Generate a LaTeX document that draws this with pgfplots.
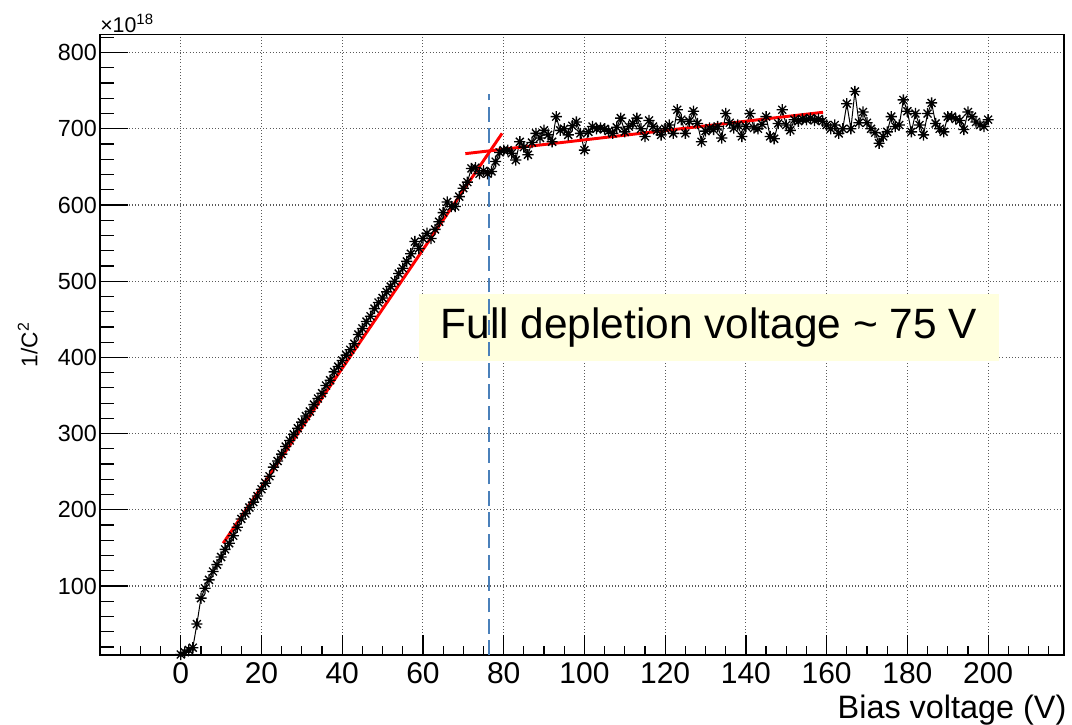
\documentclass[border=0pt]{standalone}
\usepackage{fontspec}
\setmainfont{Liberation Sans}
\usepackage{pgfplots}
\pgfplotsset{compat=1.18}
\definecolor{boxyellow}{RGB}{255,255,222}
\definecolor{dashblue}{RGB}{74,128,186}
\pgfdeclareplotmark{rootstar}{%
  \pgfpathmoveto{\pgfqpoint{-\pgfplotmarksize}{0pt}}\pgfpathlineto{\pgfqpoint{\pgfplotmarksize}{0pt}}%
  \pgfpathmoveto{\pgfqpoint{0pt}{-\pgfplotmarksize}}\pgfpathlineto{\pgfqpoint{0pt}{\pgfplotmarksize}}%
  \pgfpathmoveto{\pgfqpoint{-0.707\pgfplotmarksize}{-0.707\pgfplotmarksize}}\pgfpathlineto{\pgfqpoint{0.707\pgfplotmarksize}{0.707\pgfplotmarksize}}%
  \pgfpathmoveto{\pgfqpoint{-0.707\pgfplotmarksize}{0.707\pgfplotmarksize}}\pgfpathlineto{\pgfqpoint{0.707\pgfplotmarksize}{-0.707\pgfplotmarksize}}%
  \pgfusepathqstroke}
\begin{document}
\begin{tikzpicture}
\useasboundingbox (-75pt,-52.5pt) rectangle (729pt,491.25pt);
\begin{axis}[
  at={(0,0)}, anchor=south west,
  scale only axis, width=723pt, height=465.5pt,
  xmin=-20, xmax=218.8, ymin=9.4, ymax=824,
  xtick={0,20,...,200}, minor xtick={-15,-10,...,215},
  ytick={100,200,...,800}, yticklabels={},
  xtick pos=bottom, ytick pos=left, tick align=inside,
  major tick length=15pt, minor tick length=7pt,
  ytick style={draw=none},
  tick style={black, line width=0.9pt},
  axis line style={black, line width=1pt},
  xmajorgrids, ymajorgrids,
  major grid style={dotted, color=black!65, line width=0.8pt},
  /pgf/number format/assume math mode=true,
  xticklabel style={font=\fontsize{22.5}{27}\selectfont, yshift=-2pt},
  scaled x ticks=false, scaled y ticks=false,
  xlabel={Bias voltage (V)},
  xlabel style={at={(rel axis cs:1,0)}, anchor=base east, yshift=-47.5pt, xshift=2pt, inner sep=0pt, font=\fontsize{24.3}{29}\selectfont},
]
\node[fill=boxyellow, minimum width=435pt, minimum height=50.25pt, inner sep=0pt,
      font=\fontsize{31.8}{38}\selectfont] at (axis cs:130.8,439.7) {Full depletion voltage \textasciitilde{} 75 V};
\addplot[dashblue, line width=1.6pt, dash pattern=on 11pt off 5pt] coordinates {(76.4,9.4) (76.4,746)};
\addplot[black, line width=0.75pt, mark=rootstar, mark size=4.2pt, mark options={line width=1pt}] table {
x y
0 10
1 13
2 16
3 19
4 50
5 84
6 97
7 108
8 119
9 128
10 138
11 148
12 156
13 166
14 177
15 188
16 195
17 203
18 210
19 218
20 227
21 235
22 244
23 256
24 264
25 273
26 283
27 291
28 299
29 307
30 315
31 323
32 329
33 338
34 346
35 353
36 363
37 370
38 381
39 388
40 396
41 403
42 410
43 418
44 430
45 438
46 447
47 454
48 464
49 472
50 478
51 486
52 493
53 500
54 510
55 517
56 526
57 536
58 552
59 543
60 556
61 563
62 556
63 568
64 578
65 590
66 604
67 598
68 598
69 611
70 622
71 630
72 648
73 649
74 641
75 645
76 641
77 644
78 657
79 669
80 672
81 672
82 668
83 659
84 683
85 676
86 666
87 682
88 694
89 688
90 698
91 692
92 683
93 716
94 698
95 700
96 692
97 704
98 709
99 694
100 672
101 696
102 703
103 700
104 701
105 700
106 697
107 694
108 702
109 714
110 696
111 703
112 707
113 714
114 700
115 690
116 711
117 703
118 698
119 692
120 700
121 705
122 694
123 725
124 712
125 694
126 710
127 723
128 707
129 683
130 697
131 701
132 699
133 703
134 688
135 720
136 708
137 701
138 705
139 690
140 703
141 720
142 701
143 700
144 706
145 716
146 690
147 687
148 707
149 725
150 705
151 698
152 712
153 710
154 713
155 712
156 714
157 711
158 713
159 710
160 705
161 700
162 705
163 694
164 700
165 733
166 700
167 749
168 708
169 722
170 708
171 700
172 695
173 681
174 690
175 696
176 716
177 703
178 705
179 738
180 723
181 696
182 720
183 705
184 692
185 720
186 734
187 707
188 700
189 696
190 716
191 716
192 713
193 711
194 699
195 722
196 716
197 709
198 705
199 703
200 712
};
\addplot[red, line width=2.2pt] coordinates {(10.5,156) (79.6,694)};
\addplot[red, line width=2.2pt] coordinates {(70.5,667.4) (159.1,721.7)};
\end{axis}
\begin{axis}[
  at={(0,0)}, anchor=south west,
  scale only axis, width=723pt, height=465.5pt,
  xmin=-20, xmax=218.8, ymin=9.4, ymax=824,
  clip=false,
  xtick=\empty,
  ytick={100,200,...,800}, minor ytick={20,40,...,820},
  ytick pos=left, tick align=inside,
  major tick length=21pt, minor tick length=10.5pt,
  tick style={black, line width=0.9pt},
  axis line style={draw=none},
  /pgf/number format/assume math mode=true,
  yticklabel style={font=\fontsize{17.5}{21}\selectfont, xshift=1.2pt},
  scaled y ticks=false,
]
\node[rotate=90, anchor=base, inner sep=0pt, font=\fontsize{17}{20}\selectfont] at ([xshift=-47pt]rel axis cs:0,0.5) {1/C\textsuperscript{2}};
\node[anchor=base west, inner sep=0pt, font=\fontsize{16}{19}\selectfont] at ([yshift=1pt]rel axis cs:0,1) {×10\textsuperscript{18}};
\end{axis}
\end{tikzpicture}
\end{document}
